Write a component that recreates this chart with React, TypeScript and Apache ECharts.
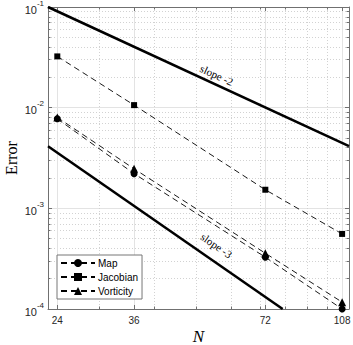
import React, { useEffect, useRef } from 'react';
import * as echarts from 'echarts';

const N = [24, 36, 72, 108];
const mapErr = [0.00775, 0.00221, 0.000327, 0.0001];
const jacobianErr = [0.0323, 0.0106, 0.00153, 0.000557];
const vorticityErr = [0.008, 0.00247, 0.000358, 0.000117];

const slope2N = [22.85, 112];
const slope2Err = [0.1, 0.00416];
const slope3N = [22.85, 78.9];
const slope3Err = [0.00413, 0.0001];

const slopeLabels = [
  { n: 55.7, err: 0.0211, text: 'slope -2', angle: -24.7 },
  { n: 55.65, err: 0.000427, text: 'slope -3', angle: -34.6 },
];

const xMajorTicks = [24, 36, 72, 108];
const xMinorTicks = [30, 40, 50, 60, 70, 80, 90, 100];
const yDecades = [1e-4, 1e-3, 1e-2, 1e-1];
const yMinorMult = [2, 3, 4, 5, 6, 7, 8, 9];

const X_MIN = 22.85;
const X_MAX = 112;
const Y_MIN = 1e-4;
const Y_MAX = 1e-1;

export default function App() {
  const ref = useRef<HTMLDivElement>(null);
  useEffect(() => {
    if (!ref.current) return;
    const chart = echarts.init(ref.current, null, { renderer: 'svg' });
    const yMinorTicks: number[] = [];
    yDecades.slice(0, 3).forEach((d) => yMinorMult.forEach((m) => yMinorTicks.push(d * m)));
    const zip = (a: number[], b: number[]) => a.map((v, i) => [v, b[i]]);
    const axisColor = '#707070';
    const labelFont = 'Liberation Sans, Arial, sans-serif';
    const serif = 'Liberation Serif, Times New Roman, serif';

    const baseX = (extra: any) => ({
      type: 'log',
      logBase: 10,
      min: X_MIN,
      max: X_MAX,
      gridIndex: 0,
      ...extra,
    });
    const baseY = (extra: any) => ({
      type: 'log',
      logBase: 10,
      min: Y_MIN,
      max: Y_MAX,
      gridIndex: 0,
      ...extra,
    });

    const dashed = { type: [6, 4], width: 0.9, color: '#000' };

    chart.setOption({
      animation: false,
      backgroundColor: '#fff',
      grid: { left: 48, top: 7, right: 4, bottom: 36, containLabel: false, outerBoundsMode: 'none' },
      xAxis: [
        baseX({
          position: 'bottom',
          name: 'N',
          nameLocation: 'middle',
          nameGap: 19,
          nameMoveOverlap: false,
          nameTextStyle: { fontFamily: serif, fontStyle: 'italic', fontSize: 17, lineHeight: 16, color: '#000' },
          axisLine: { show: true, lineStyle: { color: axisColor, width: 1 } },
          axisTick: { show: true, inside: true, length: 4, customValues: xMajorTicks, lineStyle: { color: axisColor } },
          axisLabel: {
            show: true,
            customValues: xMajorTicks,
            margin: 6,
            fontSize: 10,
            fontFamily: labelFont,
            color: '#262626',
            formatter: (v: number) => String(Math.round(v)),
          },
          splitLine: { show: true, lineStyle: { color: '#e3e3e3', width: 1, type: 'solid' } },
          minorTick: { show: false },
        }),
        baseX({
          position: 'bottom',
          axisLine: { show: false },
          axisTick: { show: true, inside: true, length: 2.5, customValues: xMinorTicks, lineStyle: { color: axisColor } },
          axisLabel: { show: false },
          splitLine: { show: true, lineStyle: { color: '#d2d2d2', width: 1, type: [1, 2] } },
        }),
        baseX({
          position: 'top',
          axisLine: { show: true, lineStyle: { color: axisColor, width: 1 } },
          axisTick: { show: true, inside: true, length: 4, customValues: xMajorTicks, lineStyle: { color: axisColor } },
          axisLabel: { show: false },
          splitLine: { show: false },
        }),
        baseX({
          position: 'top',
          axisLine: { show: false },
          axisTick: { show: true, inside: true, length: 2.5, customValues: xMinorTicks, lineStyle: { color: axisColor } },
          axisLabel: { show: false },
          splitLine: { show: false },
        }),
      ],
      yAxis: [
        baseY({
          position: 'left',
          name: 'Error',
          nameLocation: 'middle',
          nameGap: 29,
          nameMoveOverlap: false,
          nameTextStyle: { fontFamily: serif, fontSize: 16, color: '#000' },
          axisLine: { show: true, lineStyle: { color: axisColor, width: 1 } },
          axisTick: { show: true, inside: true, length: 4, customValues: yDecades, lineStyle: { color: axisColor } },
          axisLabel: {
            show: true,
            customValues: yDecades,
            margin: 4,
            color: '#262626',
            fontFamily: labelFont,
            formatter: (v: number) => `{b|10}{s|${Math.round(Math.log10(v))}}`,
            rich: {
              b: { fontSize: 11, fontFamily: labelFont, color: '#262626', verticalAlign: 'bottom', lineHeight: 16 },
              s: { fontSize: 8, fontFamily: labelFont, color: '#262626', verticalAlign: 'top', lineHeight: 10 },
            },
          },
          splitLine: { show: true, lineStyle: { color: '#e3e3e3', width: 1, type: 'solid' } },
        }),
        baseY({
          position: 'left',
          axisLine: { show: false },
          axisTick: { show: true, inside: true, length: 2.5, customValues: yMinorTicks, lineStyle: { color: axisColor } },
          axisLabel: { show: false },
          splitLine: { show: true, lineStyle: { color: '#d2d2d2', width: 1, type: [1, 2] } },
        }),
        baseY({
          position: 'right',
          axisLine: { show: true, lineStyle: { color: axisColor, width: 1 } },
          axisTick: { show: true, inside: true, length: 4, customValues: yDecades, lineStyle: { color: axisColor } },
          axisLabel: { show: false },
          splitLine: { show: false },
        }),
        baseY({
          position: 'right',
          axisLine: { show: false },
          axisTick: { show: true, inside: true, length: 2.5, customValues: yMinorTicks, lineStyle: { color: axisColor } },
          axisLabel: { show: false },
          splitLine: { show: false },
        }),
      ],
      legend: {
        data: ['Map', 'Jacobian', 'Vorticity'],
        orient: 'vertical',
        left: 57,
        top: 255,
        padding: [3, 4, 3, 3],
        itemGap: 4,
        itemWidth: 34,
        itemHeight: 10,
        backgroundColor: '#fff',
        borderColor: '#777',
        borderWidth: 1,
        borderRadius: 0,
        textStyle: { fontSize: 10, fontFamily: labelFont, color: '#000', padding: [0, 0, 0, -2] },
      },
      series: [
        {
          name: 'slope2',
          type: 'line',
          data: zip(slope2N, slope2Err),
          symbol: 'none',
          lineStyle: { color: '#000', width: 2.5 },
          z: 3,
        },
        {
          name: 'slope3',
          type: 'line',
          data: zip(slope3N, slope3Err),
          symbol: 'none',
          lineStyle: { color: '#000', width: 2.5 },
          z: 3,
        },
        {
          name: 'Map',
          type: 'line',
          data: zip(N, mapErr),
          symbol: 'circle',
          symbolSize: 7,
          itemStyle: { color: '#000' },
          lineStyle: dashed,
          z: 4,
        },
        {
          name: 'Jacobian',
          type: 'line',
          data: zip(N, jacobianErr),
          symbol: 'rect',
          symbolSize: 6,
          itemStyle: { color: '#000' },
          lineStyle: dashed,
          z: 4,
        },
        {
          name: 'Vorticity',
          type: 'line',
          data: zip(N, vorticityErr),
          symbol: 'triangle',
          symbolSize: 8,
          itemStyle: { color: '#000' },
          lineStyle: dashed,
          z: 4,
        },
      ],
    });

    const graphics = slopeLabels.map((l) => {
      const p = chart.convertToPixel({ xAxisIndex: 0, yAxisIndex: 0 }, [l.n, l.err]) as number[];
      return {
        type: 'text',
        x: p[0],
        y: p[1],
        rotation: (l.angle * Math.PI) / 180,
        z: 10,
        style: {
          text: l.text,
          fontFamily: serif,
          fontStyle: 'normal',
          fontSize: 11,
          fill: '#000',
          align: 'center',
          verticalAlign: 'middle',
        },
      };
    });
    chart.setOption({ graphic: graphics });

    return () => chart.dispose();
  }, []);
  return <div ref={ref} style={{ width: 353, height: 345, position: 'absolute', left: 0, top: 0 }} />;
}
